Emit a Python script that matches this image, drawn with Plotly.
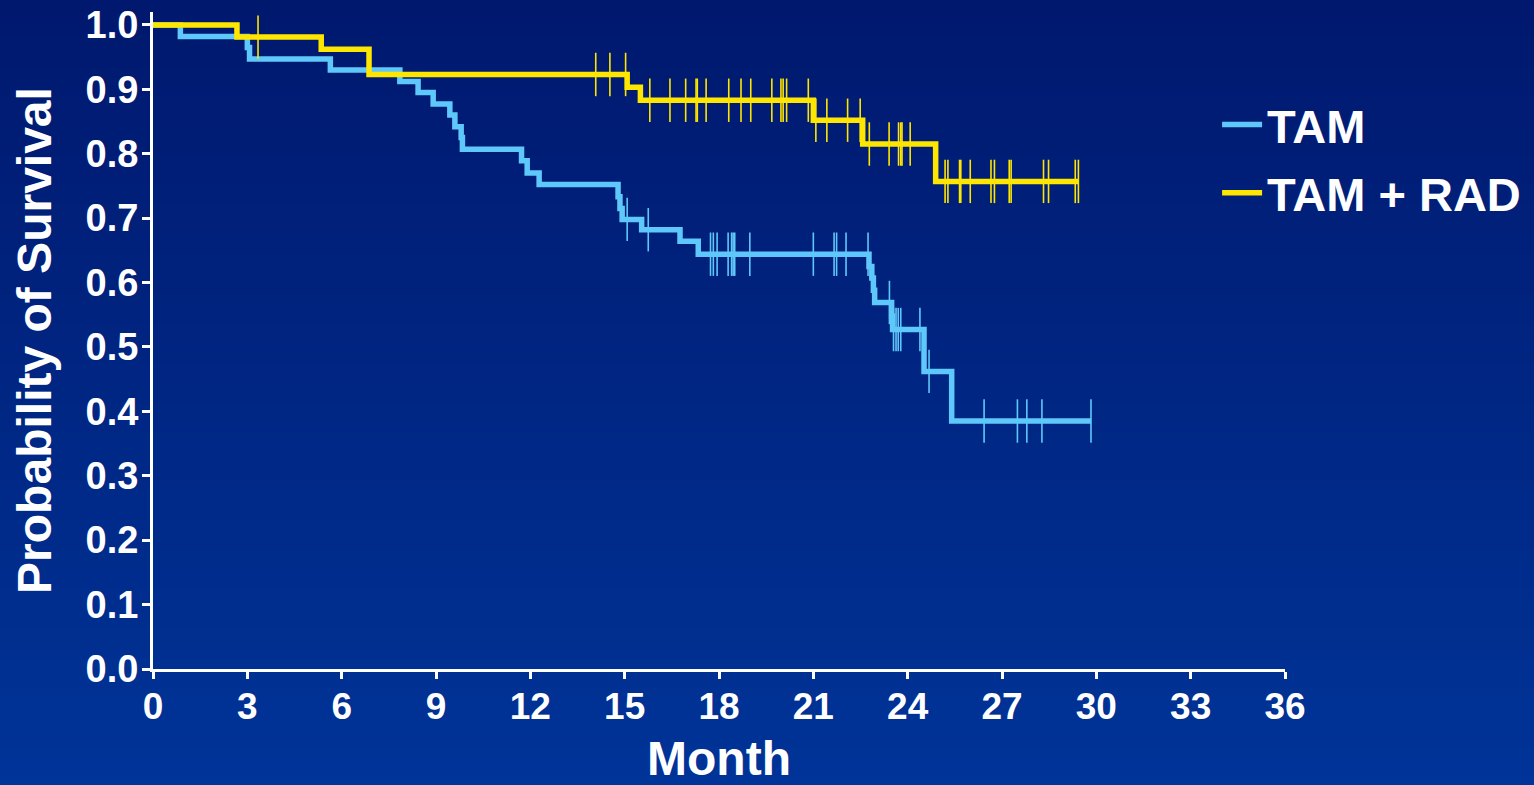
import numpy as np
import plotly.graph_objects as go

# Kaplan-Meier estimates: event times (months) and survival after each step
tam_time = [0, 0.87, 3.00, 3.07, 5.64, 7.85, 8.43, 8.91, 9.44, 9.60, 9.80, 9.84,
            11.72, 11.90, 12.28, 14.79, 14.85, 14.92, 15.54, 16.76, 17.34,
            22.77, 22.86, 22.91, 22.95, 23.49, 23.52, 24.52, 25.40]
tam_surv = [1.0, 0.982, 0.965, 0.947, 0.930, 0.912, 0.895, 0.877, 0.860, 0.842, 0.825, 0.807,
            0.789, 0.770, 0.752, 0.733, 0.715, 0.698, 0.682, 0.664, 0.644,
            0.625, 0.607, 0.588, 0.569, 0.548, 0.527, 0.462, 0.385]
tam_censor = [15.08, 15.75, 17.73, 17.82, 17.94, 18.29, 18.40, 18.45, 18.50, 18.98,
              21.00, 21.66, 21.74, 22.04, 22.74, 23.42, 23.55, 23.63, 23.70, 23.78,
              24.39, 24.68, 26.43, 27.49, 27.79, 28.27, 29.83]

rad_time = [0, 2.67, 5.35, 6.87, 15.08, 15.50, 21.00, 22.57, 24.89]
rad_surv = [1.0, 0.981, 0.962, 0.923, 0.903, 0.883, 0.852, 0.815, 0.757]
rad_censor = [3.34, 14.08, 14.53, 15.03, 15.80, 16.44, 16.94, 17.27, 17.31, 17.59,
              18.31, 18.70, 19.01, 19.68, 19.97, 20.04, 20.15, 20.84, 21.08, 21.43,
              22.09, 22.49, 22.78, 23.41, 23.71, 23.78, 23.82, 24.08, 25.19, 25.28,
              25.65, 25.69, 25.99, 26.65, 26.76, 27.23, 27.29, 28.32, 28.48, 29.33, 29.43]

x_ticks = list(range(0, 37, 3))
y_ticks = [round(v * 0.1, 1) for v in range(11)]

TAM_COLOR = "#5FC8FA"
RAD_COLOR = "#FFE600"
FONT = "Liberation Sans, Arial, Helvetica, sans-serif"


def km_curve(times, surv, censor):
    """Step coordinates extended to the last follow-up, plus censor-mark levels."""
    t = np.asarray(times, dtype=float)
    s = np.asarray(surv, dtype=float)
    c = np.asarray(censor, dtype=float)
    end = max(t.max(), c.max())
    xs = np.append(t, end)
    ys = np.append(s, s[-1])
    idx = np.searchsorted(t, c, side="right") - 1
    return xs, ys, c, s[idx]


fig = go.Figure()

# vertical background gradient, drawn as thin bands behind everything
top = np.array([0, 24, 110])
bottom = np.array([0, 52, 152])
n_bands = 80
y_hi, y_lo = 1.02, -0.18
for i in range(n_bands):
    f = (i + 0.5) / n_bands
    r, g, b = (top + (bottom - top) * f).round().astype(int)
    y1 = y_hi - (y_hi - y_lo) * i / n_bands
    y0 = y_hi - (y_hi - y_lo) * (i + 1) / n_bands
    if i == 0:
        y1 = 1.1
    if i == n_bands - 1:
        y0 = -0.4
    fig.add_shape(type="rect", xref="paper", yref="paper",
                  x0=-0.3, x1=1.4, y0=y0 - 0.002, y1=y1 + 0.002,
                  fillcolor=f"rgb({r},{g},{b})", line_width=0, layer="below")

for name, times, surv, censor, color in [
    ("TAM", tam_time, tam_surv, tam_censor, TAM_COLOR),
    ("TAM + RAD", rad_time, rad_surv, rad_censor, RAD_COLOR),
]:
    xs, ys, cx, cy = km_curve(times, surv, censor)
    fig.add_trace(go.Scatter(
        x=cx, y=cy, mode="markers", showlegend=False, hoverinfo="skip",
        legendgroup=name,
        marker=dict(symbol="line-ns", size=31, color=color,
                    line=dict(color=color, width=1.6)),
    ))
    fig.add_trace(go.Scatter(
        x=xs, y=ys, mode="lines", name=name, legendgroup=name,
        line=dict(color=color, width=5.5, shape="hv"),
    ))

fig.update_layout(
    width=1534, height=785,
    margin=dict(l=153, r=249, t=12, b=116, autoexpand=False),
    paper_bgcolor="rgb(0,38,130)",
    plot_bgcolor="rgba(0,0,0,0)",
    font=dict(family=FONT, color="white", weight="bold"),
    showlegend=True,
    legend=dict(
        x=0.94, y=0.885, xanchor="left", yanchor="top",
        bgcolor="rgba(0,0,0,0)", itemwidth=40,
        traceorder="grouped", tracegroupgap=4,
        font=dict(size=47, family=FONT, color="white", weight="bold"),
    ),
    xaxis=dict(
        range=[0, 36], tickvals=x_ticks, ticktext=[str(v) for v in x_ticks],
        automargin=True,
        showgrid=False, zeroline=False, showline=True,
        linecolor="white", linewidth=3,
        ticks="outside", ticklen=7, tickwidth=3, tickcolor="white",
        ticklabelstandoff=-4,
        tickfont=dict(size=37, family=FONT, color="white", weight="bold"),
        title=dict(text="Month", standoff=24,
                   font=dict(size=48, family=FONT, color="white", weight="bold")),
    ),
    yaxis=dict(
        range=[0, 1.02], tickvals=y_ticks, ticktext=[f"{v:.1f}" for v in y_ticks],
        automargin=True,
        showgrid=False, zeroline=False, showline=True,
        linecolor="white", linewidth=3,
        ticks="outside", ticklen=8, tickwidth=3, tickcolor="white",
        ticklabelstandoff=-4,
        tickfont=dict(size=38, family=FONT, color="white", weight="bold"),
        title=dict(text="Probability of Survival", standoff=19,
                   font=dict(size=48, family=FONT, color="white", weight="bold")),
    ),
)

fig.write_html("out.html")
